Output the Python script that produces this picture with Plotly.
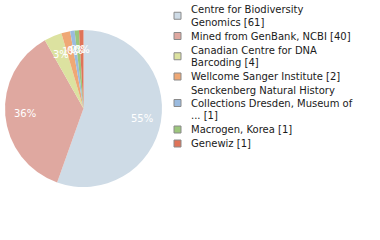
import math
import plotly.graph_objects as go

names = [
    "Centre for Biodiversity\nGenomics",
    "Mined from GenBank, NCBI",
    "Canadian Centre for DNA\nBarcoding",
    "Wellcome Sanger Institute",
    "Senckenberg Natural History\nCollections Dresden, Museum of\n...",
    "Macrogen, Korea",
    "Genewiz",
]
values = [61, 40, 4, 2, 1, 1, 1]
colors = ["#cedbe6", "#dfa8a0", "#dce2a0", "#efa875", "#9bbbdf", "#9cc67c", "#df7358"]

W, H = 380, 240
# pie placement (pixels)
CX, CY, R = 83.5, 108.5, 78.5

total = sum(values)
pct_text = [f"{int(v * 100 // total)}%" for v in values]
legend_text = [f"{n} [{v}]" for n, v in zip(names, values)]

fig = go.Figure(go.Pie(
    labels=[t.replace("\n", " ") for t in legend_text],
    values=values,
    marker=dict(colors=colors, line=dict(width=0)),
    sort=False,
    direction="clockwise",
    rotation=0,
    textinfo="none",
    domain=dict(x=[(CX - R) / W, (CX + R) / W], y=[(H - CY - R) / H, (H - CY + R) / H]),
    hoverinfo="label+value+percent",
    showlegend=False,
))

annotations = []
shapes = []

# percentage labels at 0.75 radius along each slice bisector
cum = 0
for v, t in zip(values, pct_text):
    mid = (cum + v / 2) / total
    cum += v
    ang = 2 * math.pi * mid
    px = CX + 0.75 * R * math.sin(ang)
    py = CY - 0.75 * R * math.cos(ang)
    annotations.append(dict(
        x=px / W, y=1 - py / H, xref="paper", yref="paper",
        text=t, showarrow=False, xanchor="center", yanchor="middle",
        font=dict(family="DejaVu Sans", size=10, color="white"),
    ))

# legend drawn line by line
LINE = 12.5
GAP = 1.5
y = 9.5
TX = 189
SX0, SX1 = 174, 181
for txt, col in zip(legend_text, colors):
    lines = txt.split("\n")
    first = y
    for ln in lines:
        annotations.append(dict(
            x=TX / W, y=1 - y / H, xref="paper", yref="paper",
            text=ln, showarrow=False, xanchor="left", yanchor="middle",
            font=dict(family="DejaVu Sans", size=10, color="#1a1a1a"),
        ))
        y += LINE
    last = y - LINE
    c = (first + last) / 2
    shapes.append(dict(
        type="rect", xref="paper", yref="paper",
        x0=SX0 / W, x1=SX1 / W, y0=1 - (c - 3.5) / H, y1=1 - (c + 3.5) / H,
        fillcolor=col, line=dict(color="#8a8a8a", width=1),
    ))
    y += GAP

fig.update_layout(
    width=W, height=H,
    margin=dict(l=0, r=0, t=0, b=0),
    paper_bgcolor="white",
    plot_bgcolor="white",
    showlegend=False,
    annotations=annotations,
    shapes=shapes,
)

fig.write_html("out.html")
